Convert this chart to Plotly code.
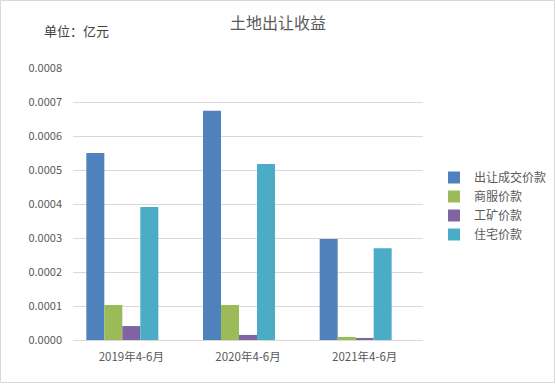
import plotly.graph_objects as go

categories = ["2019年4-6月", "2020年4-6月", "2021年4-6月"]
series_names = ["出让成交价款", "商服价款", "工矿价款", "住宅价款"]
v_chengjiao = [0.000550, 0.000674, 0.000297]
v_shangfu = [0.000103, 0.000103, 0.000009]
v_gongkuang = [0.000041, 0.000015, 0.000006]
v_zhuzhai = [0.000391, 0.000518, 0.000270]
colors = ["#4F81BD", "#9BBB59", "#8064A2", "#4BACC6"]

W, H = 556, 384
L, R, T, B = 73, 133, 68, 44
pw, ph = W - L - R, H - T - B

# bar geometry (category units): 5 slots per group, the last one empty
bar_w = 18 / (pw / 3)
group_w = 5 * bar_w

fig = go.Figure()
for i, (name, vals, c) in enumerate(zip(series_names, [v_chengjiao, v_shangfu, v_gongkuang, v_zhuzhai], colors)):
    fig.add_trace(go.Bar(x=categories, y=vals, name=name, width=bar_w, offset=-group_w / 2 + i * bar_w,
                         marker=dict(color=c, line=dict(width=0))))

font = "Noto Sans CJK SC, Microsoft YaHei, sans-serif"
fig.update_layout(
    width=W, height=H, autosize=False,
    margin=dict(l=L, r=R, t=T, b=B, autoexpand=False),
    paper_bgcolor="white", plot_bgcolor="white",
    barmode="overlay",
    font=dict(family=font, size=11, color="#595959"),
    showlegend=True,
    legend=dict(x=(434 - L) / pw, y=1 - (206 - T) / ph, xanchor="left", yanchor="middle",
                font=dict(size=12, color="#595959"), tracegroupgap=0, itemwidth=30,
                bgcolor="rgba(0,0,0,0)"),
    xaxis=dict(showline=True, linecolor="#D9D9D9", linewidth=1, ticks="", showgrid=False,
               tickfont=dict(size=11.5, color="#595959"), ticklabelstandoff=6),
    yaxis=dict(range=[0, 0.0008], dtick=0.0001, tickformat=".4f", showgrid=True,
               gridcolor="#D9D9D9", gridwidth=1, zeroline=False, showline=False, ticks="",
               tickfont=dict(size=11, color="#595959"), ticklabelstandoff=10),
    annotations=[
        dict(text="土地出让收益", x=(278 - L) / pw, y=1 + (T - 22) / ph, xref="paper", yref="paper",
             xanchor="center", yanchor="middle", showarrow=False,
             font=dict(size=16, color="#595959", family=font)),
        dict(text="单位：亿元", x=(42 - L) / pw, y=1 + (T - 30) / ph, xref="paper", yref="paper",
             xanchor="left", yanchor="middle", showarrow=False,
             font=dict(size=13, color="#404040", family=font)),
    ],
    shapes=[dict(type="rect", xref="paper", yref="paper",
                 x0=-(L - 0.5) / pw, x1=1 + (R - 1.5) / pw,
                 y0=-(B - 1.5) / ph, y1=1 + (T - 0.5) / ph,
                 line=dict(color="#D9D9D9", width=1), fillcolor="rgba(0,0,0,0)", layer="below")],
)
fig.write_html("out.html", config={"displayModeBar": False},
               post_script="document.body.style.margin='0';document.body.style.overflow='hidden';")
